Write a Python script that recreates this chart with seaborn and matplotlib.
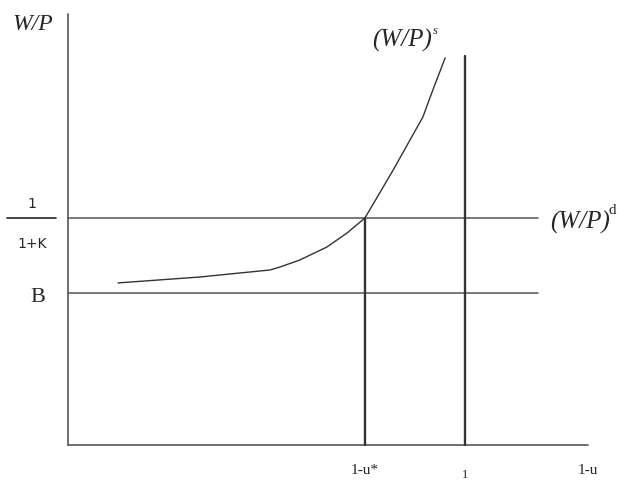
import numpy as np
import pandas as pd
import seaborn as sns
import matplotlib.pyplot as plt

# wage-setting curve (W/P)^s
supply_x = [0.126, 0.332, 0.509, 0.534, 0.584, 0.652, 0.703, 0.748, 0.819, 0.894, 0.919, 0.950]
supply_y = [0.714, 0.740, 0.771, 0.784, 0.815, 0.872, 0.934, 1.000, 1.211, 1.445, 1.564, 1.705]

wage_d = 1.0        # 1/(1+K)
wage_b = 0.67       # B
u_star = 0.748      # 1-u*
full = 1.0          # 1
x_end = 1.31
hline_end = 1.184
y_top = 1.90
full_top = 1.714

sns.set_theme(style="white")
plt.rcParams['font.family'] = ['DejaVu Sans']

fig = plt.figure(figsize=(6.25, 4.8), dpi=100)
ax = fig.add_axes([0, 0, 1, 1])
ax.set_xlim(-0.1713, 1.403)
ax.set_ylim(-0.154, 1.960)
ax.axis('off')

axc = '#555555'
# axes
ax.plot([0, 0], [0, y_top], color=axc, lw=1.2)
ax.plot([0, x_end], [0, 0], color=axc, lw=1.2)
# horizontal lines
ax.plot([0, hline_end], [wage_d, wage_d], color=axc, lw=1.1)
ax.plot([0, hline_end], [wage_b, wage_b], color=axc, lw=1.1)
# verticals
ax.plot([u_star, u_star], [0, wage_d], color='#333333', lw=1.7)
ax.plot([full, full], [0, full_top], color='#333333', lw=1.7)

df = pd.DataFrame({'x': supply_x, 'y': supply_y})
sns.lineplot(data=df, x='x', y='y', sort=False, color='#333333', lw=1.0, ax=ax)

serif = ['Liberation Serif', 'DejaVu Serif']
ax.text(-0.088, 1.85, 'W/P', family=serif, style='italic', fontsize=17, ha='center', va='center')
ax.text(0.841, 1.784, '(W/P)', family=serif, style='italic', fontsize=18, ha='center', va='center')
ax.text(0.925, 1.822, 's', family=serif, style='italic', fontsize=9, ha='center', va='center')
ax.text(1.214, wage_d - 0.02, '(W/P)', family=serif, style='italic', fontsize=18, ha='left', va='center')
ax.text(1.37, wage_d + 0.035, 'd', family=serif, fontsize=11, ha='center', va='center')

ax.plot([-0.154, -0.03], [wage_d, wage_d], color='#222222', lw=1.2)
ax.text(-0.091, wage_d + 0.06, '1', fontsize=10, ha='center', va='center')
ax.text(-0.091, wage_d - 0.115, '1+K', fontsize=10, ha='center', va='center')
ax.text(-0.077, wage_b - 0.02, 'B', family=serif, fontsize=16, ha='center', va='center')

ax.text(u_star, -0.11, '1-u*', family=serif, fontsize=11, ha='center', va='center')
ax.text(full, -0.13, '1', family=serif, fontsize=9, ha='center', va='center')
ax.text(x_end, -0.11, '1-u', family=serif, fontsize=11, ha='center', va='center')

fig.savefig('out.png', dpi=100)
